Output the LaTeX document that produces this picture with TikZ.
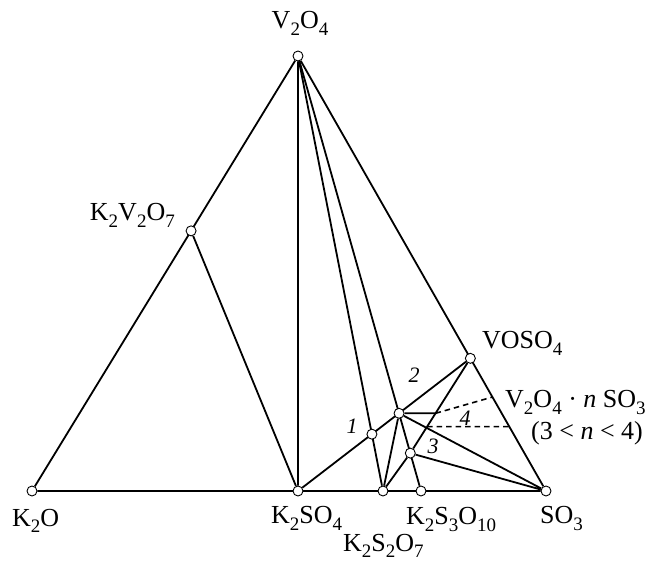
\documentclass[tikz,border=0pt]{standalone}
\usepackage{fontspec}
\setmainfont{Liberation Serif}
\usetikzlibrary{calc,backgrounds}
\newcommand{\chs}[1]{\raisebox{-0.24em}{\fontsize{19}{20}\selectfont #1}}
\tikzset{
  % --- nodes
  phase/.style = {circle, draw, fill=white, inner sep=0pt, minimum size=10pt,
                  line width=0.9pt},
  lbl/.style   = {font=\fontsize{26}{30}\selectfont, inner sep=0pt},
  num/.style   = {font=\fontsize{22}{26}\selectfont\itshape, inner sep=0pt},
  % --- edges
  tie/.style   = {line width=1.8pt, line join=round},
  tiedash/.style = {tie, line width=1.6pt, dash pattern=on 5.5pt off 4pt},
}

\begin{document}
\begin{tikzpicture}[x=1pt,y=-1pt]
  \useasboundingbox (0,0) rectangle (654,561);
  % corners and binary compounds
  \node[phase] (K2O)     at (32,491)  {};
  \node[phase] (SO3)     at (546,491) {};
  \node[phase] (V2O4)    at (298,56)  {};
  \node[phase] (K2SO4)   at (298,491) {};
  \node[phase] (K2S2O7)  at (383,491) {};
  \node[phase] (K2S3O10) at (421,491) {};
  \node[phase] (K2V2O7)  at ($(V2O4)!0.402!(K2O)$) {};
  \node[phase] (VOSO4)   at ($(V2O4)!0.695!(SO3)$) {};
  % inner points
  \node[phase] (p1) at (intersection of V2O4--K2S2O7 and K2SO4--VOSO4) {};
  \node[phase] (p2) at (intersection of V2O4--K2S3O10 and K2SO4--VOSO4) {};
  \node[phase] (p3) at ($(V2O4)!0.913!(K2S3O10)$) {};
  % helper points for the short tie and the dashed ones
  \coordinate (p2r) at ($(p2)+(10,0)$);
  \coordinate (h1)  at (intersection of p2--p2r and VOSO4--p3);
  \coordinate (d1)  at ($(V2O4)!0.784!(SO3)$);
  \coordinate (d2r) at ($(V2O4)!0.852!(SO3)$);
  \coordinate (d2x) at ($(d2r)+(-10,0)$);
  \coordinate (d2l) at (intersection of d2r--d2x and VOSO4--p3);

  % ties under the points
  \begin{scope}[on background layer]
    \draw[tie] (K2O) -- (V2O4) -- (SO3) -- (K2O);
    \draw[tie] (K2V2O7) -- (K2SO4) -- (V2O4);
    \draw[tie] (V2O4) -- (K2S2O7);
    \draw[tie] (V2O4) -- (K2S3O10);
    \draw[tie] (K2SO4) -- (VOSO4);
    \draw[tie] (VOSO4) -- (p3) -- (K2S2O7) -- (p2) -- (SO3) -- (p3);
    \draw[tie] (p2) -- (h1);
    \draw[tiedash] (h1) -- (d1);
    \draw[tiedash] (d2l) -- (d2r);
  \end{scope}

  % compound labels
  \node[lbl, anchor=base]       (tV2O4)    at (300,29)  {V\chs{2}O\chs{4}};
  \node[lbl, anchor=base east]  (tK2V2O7)  at (175,221) {K\chs{2}V\chs{2}O\chs{7}};
  \node[lbl, anchor=base west]  (tVOSO4)   at (482,349) {VOSO\chs{4}};
  \node[lbl, anchor=base west]  (tVnSO3)   at (505,408) {V\chs{2}O\chs{4} · \textit{n} SO\chs{3}};
  \node[lbl, anchor=base west]  (trange)   at (531,440) {(3 < \textit{n} < 4)};
  \node[lbl, anchor=base west]  (tK2O)     at (12,526)  {K\chs{2}O};
  \node[lbl, anchor=base west]  (tK2SO4)   at (271,524) {K\chs{2}SO\chs{4}};
  \node[lbl, anchor=base west]  (tK2S3O10) at (406,525) {K\chs{2}S\chs{3}O\chs{10}};
  \node[lbl, anchor=base west]  (tSO3)     at (540,524) {SO\chs{3}};
  \node[lbl, anchor=base west]  (tK2S2O7)  at (343,551) {K\chs{2}S\chs{2}O\chs{7}};

  % field numbers
  \node[num] (n1) at (352,426) {1};
  \node[num] (n2) at (414,375) {2};
  \node[num] (n3) at (433,446) {3};
  \node[num] (n4) at (465,418) {4};
\end{tikzpicture}
\end{document}
